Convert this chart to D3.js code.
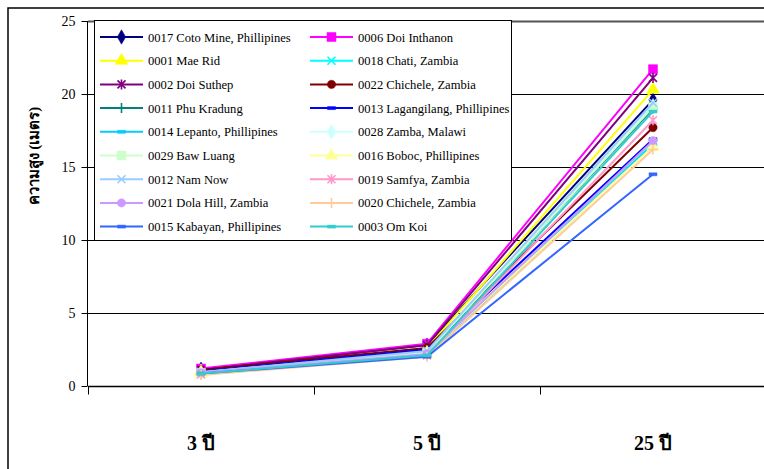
<!DOCTYPE html>
<html lang="th">
<head>
  <meta charset="UTF-8">
  <script src="https://d3js.org/d3.v7.min.js"></script>
  <title>Height chart</title>
  <style>
    body { margin: 0; background: #fff; }
    text { font-family: "Liberation Serif", "Times New Roman", Times, serif; }
  </style>
</head>
<body>
  <script>
    // categories (x axis)
    const years = ["3 ปี", "5 ปี", "25 ปี"]
    const yTicks = [0, 5, 10, 15, 20, 25]

    // series, in legend order (row by row)
    const sites = [
      "0017 Coto Mine, Phillipines", "0006 Doi Inthanon",
      "0001 Mae Rid", "0018 Chati, Zambia",
      "0002 Doi Suthep", "0022 Chichele, Zambia",
      "0011 Phu Kradung", "0013 Lagangilang, Phillipines",
      "0014 Lepanto, Phillipines", "0028 Zamba, Malawi",
      "0029 Baw Luang", "0016 Boboc, Phillipines",
      "0012 Nam Now", "0019 Samfya, Zambia",
      "0021 Dola Hill, Zambia", "0020 Chichele, Zambia",
      "0015 Kabayan, Phillipines", "0003 Om Koi"
    ]
    // height (m) at each age, same order as sites
    const at3  = [1.15, 1.2, 1.0, 0.9, 1.1, 1.1, 1.0, 1.0, 0.9, 0.95, 0.9, 0.85, 0.95, 0.8, 0.9, 0.75, 0.85, 0.85]
    const at5  = [2.8, 2.9, 2.6, 2.2, 2.8, 2.6, 2.4, 2.5, 2.1, 2.3, 2.3, 2.2, 2.4, 2.1, 2.2, 2.0, 2.0, 2.1]
    const at25 = [19.6, 21.7, 20.3, 16.6, 21.1, 17.7, 19.0, 16.9, 16.5, 19.2, 19.1, 16.4, 19.4, 18.2, 16.8, 16.2, 14.5, 18.8]

    // styles
    const colors = ["#000080", "#ff00ff", "#ffff00", "#00ffff", "#800080", "#800000",
                    "#008080", "#0000ff", "#00ccff", "#ccffff", "#ccffcc", "#ffff99",
                    "#99ccff", "#ff99cc", "#cc99ff", "#ffcc99", "#3366ff", "#33cccc"]
    const marks = ["diamond", "square", "triangle", "x", "star", "circle",
                   "plus", "dash", "dash", "diamond", "square", "triangle",
                   "x", "star", "circle", "plus", "dash", "dash"]

    const serif = "'Liberation Serif', 'Times New Roman', Times, serif"
    const width = 764, height = 469
    const svg = d3.select("body").append("svg")
        .attr("width", width)
        .attr("height", height)
        .attr("font-family", serif)

    // outer chart frame
    svg.append("rect")
        .attr("x", 8).attr("y", 8)
        .attr("width", width).attr("height", height)
        .attr("fill", "none").attr("stroke", "#000").attr("stroke-width", 1.5)

    const xScale = d3.scaleBand().domain(years).range([88, 766])
    const yScale = d3.scaleLinear().domain([0, 25]).range([386, 21])

    // gridlines
    svg.append("g").selectAll("line")
        .data(yTicks.filter(d => d > 0))
        .join("line")
        .attr("x1", 88).attr("x2", width)
        .attr("y1", d => Math.round(yScale(d)) + 0.5)
        .attr("y2", d => Math.round(yScale(d)) + 0.5)
        .attr("stroke", d => d == 25 ? "#555" : "#000")
        .attr("stroke-width", d => d == 25 ? 2 : 1)

    // y axis
    const yAxis = svg.append("g")
        .attr("transform", "translate(87.5,0)")
        .call(d3.axisLeft(yScale).tickValues(yTicks).tickSize(6).tickPadding(6))
        .attr("font-family", serif)
        .attr("font-size", 14)
    yAxis.selectAll("text").attr("fill", "#000")
    yAxis.select(".domain").attr("stroke", "#000").attr("d", "M0,21V386")

    // x axis
    const xAxis = svg.append("g")
        .attr("transform", "translate(0,386.5)")
    xAxis.append("line")
        .attr("x1", 88).attr("x2", width)
        .attr("stroke", "#000").attr("stroke-width", 1.5)
    xAxis.selectAll(".sep")
        .data(years)
        .join("line")
        .attr("class", "sep")
        .attr("x1", d => xScale(d) + 0.5).attr("x2", d => xScale(d) + 0.5)
        .attr("y1", 0).attr("y2", 8)
        .attr("stroke", "#000")
    xAxis.selectAll("text")
        .data(years)
        .join("text")
        .attr("x", d => xScale(d) + xScale.bandwidth() / 2)
        .attr("y", 63)
        .attr("text-anchor", "middle")
        .attr("font-size", 20)
        .attr("font-weight", "bold")
        .text(d => d)

    svg.append("text")
        .attr("transform", "translate(39,156) rotate(-90)")
        .attr("text-anchor", "middle")
        .attr("font-size", 15)
        .attr("font-weight", "bold")
        .text("ความสูง (เมตร)")

    // marker shapes
    function markerPath(kind) {
      if (kind == "diamond") return d3.symbol(d3.symbolDiamond, 60)()
      if (kind == "square") return "M-4.5,-4.5H4.5V4.5H-4.5Z"
      if (kind == "triangle") return d3.symbol(d3.symbolTriangle, 70)()
      if (kind == "circle") return d3.symbol(d3.symbolCircle, 55)()
      if (kind == "dash") return "M-4,-1.5H4V1.5H-4Z"
      if (kind == "x") return "M-4,-4L4,4M-4,4L4,-4"
      if (kind == "plus") return "M-5,0H5M0,-5V5"
      if (kind == "star") return "M-4,-4L4,4M-4,4L4,-4M0,-5V5"
    }
    const filled = k => !(k == "x" || k == "plus" || k == "star")

    function drawMark(g, kind, color) {
      g.append("path")
          .attr("d", markerPath(kind))
          .attr("fill", filled(kind) ? color : "none")
          .attr("stroke", color)
          .attr("stroke-width", filled(kind) ? 0.5 : 1.6)
    }

    const series = sites.map((name, i) => ({
      name, color: colors[i], mark: marks[i],
      values: [at3[i], at5[i], at25[i]]
    }))

    const line = d3.line()
        .x((d, j) => xScale(years[j]) + xScale.bandwidth() / 2)
        .y(d => yScale(d))

    const plot = svg.append("g")
    series.forEach(s => {
      plot.append("path")
          .attr("d", line(s.values))
          .attr("fill", "none")
          .attr("stroke", s.color)
          .attr("stroke-width", 2)
      s.values.forEach((v, j) => {
        const g = plot.append("g")
            .attr("transform", `translate(${xScale(years[j]) + xScale.bandwidth() / 2},${yScale(v)})`)
        drawMark(g, s.mark, s.color)
      })
    })

    // legend
    const legend = svg.append("g")
    legend.append("rect")
        .attr("x", 94.5).attr("y", 20.5)
        .attr("width", 417).attr("height", 220)
        .attr("fill", "#fff").attr("stroke", "#000")
    series.forEach((s, i) => {
      const col = i % 2, row = Math.floor(i / 2)
      const x0 = 100 + col * 210, y0 = 37 + row * 23.7
      const g = legend.append("g").attr("transform", `translate(${x0},${y0})`)
      g.append("line")
          .attr("x1", 0).attr("x2", 43)
          .attr("stroke", s.color).attr("stroke-width", 2)
      drawMark(g.append("g").attr("transform", "translate(21.5,0)"), s.mark, s.color)
      g.append("text")
          .attr("x", 48).attr("y", 4.5)
          .attr("font-size", 12.6)
          .attr("fill", "#000")
          .text(s.name)
    })
  </script>
</body>
</html>
